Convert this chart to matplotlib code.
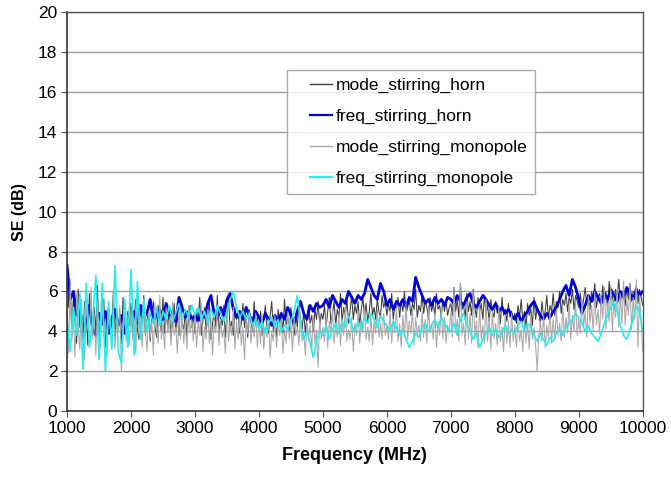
import numpy as np
import matplotlib
matplotlib.use("Agg")
import matplotlib.pyplot as plt
from matplotlib.lines import Line2D
from matplotlib.legend_handler import HandlerLine2D

plt.rcParams['font.family'] = ['Liberation Sans', 'DejaVu Sans']

# mode stirring traces sampled every 25 MHz, freq stirring every 50 MHz
freq_mode = np.arange(1000, 10001, 25)
freq_freq = np.arange(1000, 10001, 50)

mode_stirring_horn = [
    7.0, 5.2, 6.5, 3.9, 5.8, 4.6, 3.4, 6.1, 4.2, 5.0, 3.6, 5.5, 4.8, 3.3, 5.9, 4.4, 3.8, 5.2, 4.0, 6.3,
    3.5, 4.9, 4.3, 5.6, 3.2, 4.7, 5.3, 3.9, 4.5, 6.0, 3.7, 5.1, 4.1, 4.8, 3.4, 5.7, 4.6, 3.8, 5.0, 4.3,
    5.4, 3.9, 4.7, 5.6, 4.1, 3.6, 5.2, 4.4, 5.8, 3.8, 4.6, 5.0, 3.5, 4.9, 5.5, 4.2, 3.7, 5.3, 4.5, 4.0,
    5.7, 3.9, 4.8, 4.3, 5.1, 3.6, 4.6, 5.4, 4.0, 4.9, 3.8, 5.6, 4.4, 4.1, 5.0, 3.7, 4.7, 5.3, 4.2, 4.8,
    3.9, 5.1, 4.5, 5.7, 3.8, 4.6, 5.2, 4.0, 4.8, 5.5, 3.6, 4.4, 5.0, 4.2, 5.8, 3.9, 4.7, 4.3, 5.3, 3.7,
    4.9, 5.6, 4.1, 4.5, 3.8, 5.2, 4.6, 5.0, 3.9, 4.4, 5.4, 4.2, 4.8, 3.7, 5.1, 4.5, 4.0, 5.5, 4.3, 4.7,
    4.1, 5.0, 3.8, 4.6, 5.3, 4.2, 3.9, 4.8, 5.5, 4.0, 4.5, 3.7, 5.1, 4.4, 4.9, 3.9, 5.6, 4.3, 4.7, 4.0,
    5.2, 4.5, 3.8, 4.9, 4.2, 5.4, 4.6, 4.1, 5.0, 3.9, 4.7, 5.3, 4.4, 4.8, 4.0, 5.1, 4.6, 5.5, 4.3, 4.9,
    4.6, 5.3, 4.2, 5.0, 5.7, 4.4, 4.9, 5.5, 4.3, 5.1, 4.7, 5.9, 4.5, 5.2, 4.8, 5.6, 4.4, 5.0, 5.8, 4.6,
    5.3, 4.9, 5.5, 4.3, 5.1, 5.7, 4.7, 5.4, 4.5, 5.0, 5.9, 4.8, 5.2, 4.6, 5.6, 5.0, 4.7, 5.8, 5.2, 5.5,
    4.8, 5.4, 5.0, 5.9, 4.6, 5.3, 5.1, 5.7, 4.7, 5.5, 5.0, 6.0, 4.9, 5.2, 5.6, 4.8, 5.4, 5.1, 6.1, 4.7,
    5.3, 5.0, 5.8, 4.9, 5.5, 5.2, 4.6, 5.7, 5.0, 5.4, 4.8, 5.9, 5.1, 5.3, 4.7, 5.6, 5.0, 5.5, 4.8, 5.2,
    5.4, 4.8, 6.2, 5.0, 5.6, 4.7, 6.4, 5.1, 5.3, 4.6, 5.9, 5.0, 5.5, 4.8, 6.1, 5.2, 4.7, 5.7, 5.0, 5.4,
    4.6, 5.8, 4.9, 5.3, 4.5, 5.6, 5.0, 4.7, 5.5, 4.9, 5.2, 4.4, 5.7, 4.8, 5.1, 4.5, 5.4, 4.7, 5.0, 4.6,
    4.9, 4.4, 5.3, 4.7, 5.6, 4.5, 5.0, 4.2, 5.4, 4.8, 5.1, 4.3, 5.7, 4.6, 5.2, 4.9, 4.4, 5.5, 4.7, 5.0,
    5.8, 4.6, 5.3, 5.0, 5.9, 4.8, 5.5, 5.2, 6.0, 4.9, 5.6, 5.3, 5.9, 5.0, 5.7, 5.4, 6.1, 5.1, 5.8, 5.5,
    5.2, 5.9, 5.0, 5.6, 6.2, 5.3, 5.8, 5.1, 6.0, 5.5, 6.4, 5.2, 5.7, 5.9, 5.3, 6.3, 5.5, 6.0, 5.1, 6.5,
    5.6, 5.8, 5.2, 6.1, 5.7, 6.6, 5.4, 6.0, 5.8, 5.3, 6.2, 5.6, 6.4, 5.5, 6.0, 5.9, 6.3, 5.4, 6.1, 5.7,
    5.3,
]

freq_stirring_horn = [
    7.3, 5.6, 6.0, 4.8, 5.2, 4.0, 4.6, 5.3, 4.2, 3.8, 4.9, 4.4, 5.0, 3.9, 4.6, 5.1, 4.3, 4.8, 3.9, 4.5,
    4.6, 5.0, 4.4, 5.3, 4.7, 4.9, 5.6, 4.5, 4.8, 5.1, 4.6, 5.4, 4.8, 5.0, 4.5, 5.7, 5.2, 4.7, 5.0, 4.6,
    4.8, 4.5, 5.0, 4.7, 5.4, 5.8, 4.9, 4.6, 5.2, 4.8, 5.6, 5.9, 5.1, 4.7, 5.0, 4.6, 5.2, 4.8, 4.5, 5.0,
    4.7, 4.4, 4.9, 4.6, 4.3, 4.8, 4.5, 4.9, 4.6, 5.2, 4.8, 4.4, 5.0, 5.5, 4.9, 4.6, 5.3, 5.0, 5.4, 5.2,
    5.3, 5.6, 5.2, 5.8, 5.5, 5.2, 5.6, 5.4, 6.0, 5.7, 5.4, 5.8, 5.6, 5.9, 6.6, 6.2, 5.8, 5.6, 6.4, 6.0,
    5.3, 5.6, 5.1, 5.5, 5.3, 5.6, 5.2, 5.7, 5.5, 6.7, 6.2, 5.8, 5.4, 5.6, 5.3, 5.7, 5.4, 5.6, 5.3, 5.7,
    5.6, 5.4, 5.8, 5.5, 5.3, 5.7, 5.9, 5.4, 5.2, 5.5, 5.8, 5.6, 5.3, 5.1, 5.4, 5.0, 5.2, 4.9, 5.1, 4.8,
    4.6, 4.9, 4.5, 4.8, 5.0, 5.3, 5.5, 5.1, 4.8, 4.6, 4.9, 4.7, 5.0, 5.2, 5.6, 6.0, 6.3, 5.8, 6.6, 6.2,
    5.6, 4.9, 5.3, 5.8, 5.5, 6.0, 5.7, 5.4, 5.9, 5.6, 6.1, 5.8, 5.5, 6.0, 5.7, 6.2, 5.9, 5.6, 6.1, 5.8,
    6.0,
]

mode_stirring_monopole = [
    5.4, 2.9, 6.6, 3.5, 4.8, 2.7, 5.9, 4.2, 3.1, 5.6, 3.8, 2.6, 5.2, 4.5, 3.3, 6.2, 3.6, 4.9, 2.8, 5.4,
    4.0, 3.2, 5.8, 3.7, 4.6, 2.9, 5.1, 4.3, 3.4, 5.5, 3.1, 4.7, 3.9, 5.3, 2.0, 4.4, 5.0, 3.5, 4.8, 3.3,
    5.1, 3.6, 4.4, 2.9, 5.6, 3.8, 4.7, 3.2, 5.3, 4.1, 3.0, 5.0, 3.7, 4.5, 2.8, 5.4, 4.0, 3.4, 5.8, 3.6,
    4.3, 3.1, 5.2, 3.9, 4.6, 3.3, 5.5, 3.8, 4.2, 2.9, 5.0, 3.6, 4.8, 3.4, 4.4, 3.1, 5.3, 3.9, 4.6, 3.5,
    4.9, 3.2, 4.5, 3.8, 5.4, 3.0, 4.2, 3.6, 5.1, 3.4, 4.7, 2.8, 4.4, 3.9, 5.3, 3.3, 4.6, 3.7, 4.1, 2.9,
    5.0, 3.5, 4.3, 3.8, 5.2, 3.1, 4.5, 3.6, 4.8, 3.3, 4.2, 2.6, 4.7, 3.9, 5.0, 3.4, 4.4, 3.7, 4.9, 3.2,
    4.5, 3.4, 4.9, 3.1, 4.2, 3.7, 4.6, 2.7, 4.0, 3.5, 4.8, 3.2, 4.3, 3.8, 4.6, 2.9, 4.1, 3.4, 5.0, 3.6,
    4.4, 3.0, 4.7, 3.8, 4.2, 3.3, 4.9, 3.5, 4.0, 2.8, 4.5, 3.7, 4.3, 3.1, 4.8, 3.4, 4.1, 2.2, 4.6, 3.6,
    4.2, 3.5, 4.8, 3.2, 4.5, 3.9, 5.1, 3.4, 4.3, 3.7, 4.9, 3.3, 4.6, 3.8, 5.2, 3.5, 4.1, 3.6, 4.7, 3.0,
    4.4, 3.8, 5.0, 3.4, 4.6, 3.9, 5.3, 3.6, 4.2, 3.5, 4.8, 3.3, 4.5, 3.9, 5.1, 3.7, 4.4, 3.6, 4.9, 3.8,
    4.3, 3.6, 5.0, 3.4, 4.6, 3.9, 5.2, 3.5, 4.4, 3.2, 4.8, 3.7, 5.4, 3.6, 4.5, 3.9, 5.1, 3.3, 4.7, 3.8,
    4.3, 3.5, 5.0, 3.7, 4.6, 3.4, 5.3, 3.9, 4.4, 3.6, 4.9, 3.2, 4.5, 3.8, 5.2, 3.6, 4.7, 3.4, 4.3, 3.9,
    5.0, 3.7, 6.2, 3.9, 4.6, 3.5, 6.4, 3.8, 4.4, 3.3, 5.5, 3.6, 4.9, 3.4, 6.0, 3.7, 4.5, 3.2, 5.2, 3.6,
    4.3, 3.4, 5.6, 3.5, 4.7, 3.1, 5.0, 3.6, 4.4, 3.3, 5.3, 3.5, 4.2, 3.0, 4.8, 3.4, 4.5, 3.2, 4.9, 3.5,
    4.3, 3.2, 4.7, 3.5, 4.1, 3.0, 4.6, 3.4, 4.4, 3.1, 4.9, 3.6, 4.2, 3.3, 2.0, 3.8, 4.5, 3.5, 4.8, 3.2,
    4.3, 3.7, 5.0, 3.4, 4.6, 3.6, 5.1, 3.8, 4.4, 3.5, 5.2, 3.7, 4.7, 3.9, 5.4, 3.6, 4.8, 4.0, 5.5, 3.8,
    4.6, 3.9, 5.6, 4.2, 5.0, 3.7, 5.8, 4.4, 5.3, 4.0, 6.0, 4.3, 5.1, 3.9, 5.7, 4.6, 6.2, 4.1, 5.4, 4.5,
    6.3, 4.0, 5.5, 4.7, 6.1, 4.2, 5.9, 4.4, 6.5, 4.3, 5.6, 4.8, 6.4, 4.1, 5.7, 4.6, 6.6, 3.2, 5.8, 4.5,
    3.0,
]

freq_stirring_monopole = [
    4.6, 3.0, 5.2, 3.8, 5.9, 2.1, 6.4, 3.2, 4.5, 6.8, 2.6, 6.4, 2.0, 5.5, 3.1, 7.3, 3.0, 2.4, 5.6, 3.2,
    7.1, 2.8, 6.5, 3.6, 5.6, 4.0, 4.9, 4.4, 5.2, 4.3, 5.0, 4.6, 5.3, 4.5, 4.9, 5.4, 4.6, 5.1, 4.7, 5.3,
    4.8, 5.2, 4.6, 5.0, 4.4, 5.1, 4.7, 5.3, 4.9, 4.5, 5.0, 5.6, 6.0, 5.2, 4.7, 5.0, 4.6, 4.9, 4.3, 4.6,
    4.1, 4.5, 3.9, 4.4, 4.7, 4.2, 4.6, 4.0, 4.3, 4.1, 4.5, 5.0, 5.8, 4.4, 3.6, 4.0, 3.4, 2.7, 3.5, 4.0,
    3.8, 4.3, 3.6, 4.1, 4.4, 3.9, 4.5, 4.2, 4.8, 4.3, 4.0, 4.5, 4.1, 4.7, 4.4, 4.9, 4.6, 4.2, 4.8, 4.5,
    4.3, 4.0, 4.5, 4.2, 3.8, 4.1, 3.6, 3.2, 3.5, 3.9, 3.7, 4.2, 4.4, 4.0, 4.3, 4.6, 4.2, 4.7, 4.4, 4.1,
    4.0, 4.4, 3.8, 4.6, 4.9, 4.3, 4.0, 3.6, 3.9, 3.2, 3.6, 3.9, 4.2, 3.8, 4.1, 3.7, 4.0, 4.3, 3.9, 4.1,
    3.9, 4.3, 4.5, 4.0, 4.4, 4.2, 3.8, 3.5, 3.9, 3.6, 3.3, 3.7, 3.5, 3.9, 4.1, 3.8, 4.2, 4.4, 4.6, 4.9,
    4.7, 4.4, 4.0, 4.3, 3.9, 3.7, 3.5, 3.9, 4.4, 4.8, 5.2, 5.5, 5.0, 4.3, 3.8, 3.6, 4.1, 4.6, 5.3, 5.0,
    4.0,
]

fig = plt.figure(figsize=(6.71, 4.82), dpi=100)
ax = fig.add_axes([0.0999, 0.147, 0.858, 0.828])

ax.plot(freq_mode, mode_stirring_horn, color='#3c3c3c', lw=0.75, label='mode_stirring_horn')
ax.plot(freq_freq, freq_stirring_horn, color='#0000e0', lw=2.0, label='freq_stirring_horn')
ax.plot(freq_mode, mode_stirring_monopole, color='#a8a8a8', lw=0.75, label='mode_stirring_monopole')
ax.plot(freq_freq, freq_stirring_monopole, color='#22eeee', lw=1.2, label='freq_stirring_monopole')

ax.set_xlim(1000, 10000)
ax.set_ylim(0, 20)
ax.set_xticks(np.arange(1000, 10001, 1000))
ax.set_yticks(np.arange(0, 21, 2))
ax.yaxis.grid(True, color='#a0a0a0', lw=1.0)
ax.set_axisbelow(True)
ax.tick_params(axis='both', labelsize=12.5, direction='out', length=4, color='#555555', pad=3)

for side in ['left', 'bottom']:
    ax.spines[side].set_color('#333333')
    ax.spines[side].set_linewidth(1.2)
for side in ['top', 'right']:
    ax.spines[side].set_color('#555555')
    ax.spines[side].set_linewidth(1.0)

ax.set_xlabel('Frequency (MHz)', fontsize=13, fontweight='bold', labelpad=8)
ax.set_ylabel('SE (dB)', fontsize=11.5, fontweight='bold', labelpad=8)

leg = ax.legend(loc='upper left', bbox_to_anchor=(0.382, 0.855), fontsize=12.5,
                frameon=True, fancybox=False, handlelength=2.15, handletextpad=0.2,
                borderpad=0.45, labelspacing=0.9, borderaxespad=0,
                handler_map={Line2D: HandlerLine2D(xpad=0.9)})
leg.get_frame().set_edgecolor('#999999')
leg.get_frame().set_linewidth(1.0)
for line in leg.get_lines():
    line.set_linewidth(1.6 if line.get_label().startswith('freq') else 1.0)

fig.savefig('out.png', dpi=100)
